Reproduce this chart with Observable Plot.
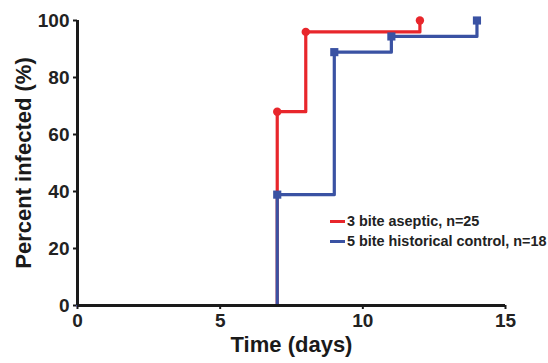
<!DOCTYPE html>
<html>
<head>
<meta charset="utf-8">
<script src="https://cdn.jsdelivr.net/npm/d3@7"></script>
<script src="https://cdn.jsdelivr.net/npm/@observablehq/plot@0.6"></script>
<style>
  html, body { margin: 0; padding: 0; background: #fff; }
  #wrap { position: relative; width: 548px; height: 363px; font-family: "Liberation Sans", Arial, sans-serif; }
  .leg { position: absolute; left: 330px; font-weight: bold; font-size: 14.4px; color: #222; white-space: nowrap; display: flex; align-items: center; }
  .leg span.sw { display: inline-block; width: 15px; height: 3px; margin-right: 2px; }
</style>
</head>
<body>
<div id="wrap"></div>
<script>
// Series (time in days, percent infected)
const asepticDays = [0, 7, 8, 12];
const asepticPct = [0, 68, 96, 100];
const controlDays = [0, 7, 9, 11, 14];
const controlPct = [0, 38.9, 88.9, 94.4, 100];
const seriesNames = ["3 bite aseptic, n=25", "5 bite historical control, n=18"];
const seriesColors = ["#e8262b", "#3a52a3"];
const xTicks = [0, 5, 10, 15];
const yTicks = [0, 20, 40, 60, 80, 100];

const aseptic = asepticDays.map((d, i) => ({day: d, pct: asepticPct[i]}));
const control = controlDays.map((d, i) => ({day: d, pct: controlPct[i]}));

const axisColor = "#1a1a1a";
const chart = Plot.plot({
  width: 548,
  height: 363,
  marginLeft: 77,
  marginRight: 43,
  marginTop: 20,
  marginBottom: 58,
  style: {fontFamily: "'Liberation Sans', Arial, sans-serif", background: "white"},
  x: {domain: [0, 15]},
  y: {domain: [0, 100]},
  marks: [
    Plot.axisX(xTicks, {tickSize: 4, strokeWidth: 2, stroke: axisColor, tickFormat: () => "", label: null}),
    Plot.axisY(yTicks, {tickSize: 4, strokeWidth: 2, stroke: axisColor, tickFormat: () => "", label: null}),
    Plot.text(xTicks, {x: d => d, frameAnchor: "bottom", dy: 15, lineAnchor: "middle", text: d => String(d), fontSize: 19, fontWeight: "bold", fill: "#222"}),
    Plot.text(yTicks, {y: d => d, frameAnchor: "left", dx: -8, textAnchor: "end", lineAnchor: "middle", text: d => String(d), fontSize: 19, fontWeight: "bold", fill: "#222"}),
    Plot.line(aseptic, {x: "day", y: "pct", curve: "step-after", stroke: seriesColors[0], strokeWidth: 3.2}),
    Plot.dot(aseptic.filter(d => d.pct > 0), {x: "day", y: "pct", r: 4.2, fill: seriesColors[0], stroke: "none"}),
    Plot.line(control, {x: "day", y: "pct", curve: "step-after", stroke: seriesColors[1], strokeWidth: 3.2}),
    Plot.dot(control.filter(d => d.pct > 0), {x: "day", y: "pct", r: 4.6, symbol: "square", fill: seriesColors[1], stroke: "none"}),
    Plot.ruleY([0], {x1: 0, x2: 15, stroke: axisColor, strokeWidth: 3}),
    Plot.ruleX([0], {y1: 0, y2: 100, stroke: axisColor, strokeWidth: 3}),
    Plot.text(["Time (days)"], {frameAnchor: "bottom", textAnchor: "middle", dy: 46, fontSize: 22, fontWeight: "bold", fill: "#1a1a1a"}),
    Plot.text(["Percent infected (%)"], {frameAnchor: "left", textAnchor: "middle", dx: -54, rotate: -90, fontSize: 22, fontWeight: "bold", fill: "#1a1a1a"})
  ]
});
const wrap = document.getElementById("wrap");
wrap.appendChild(chart);
const legTops = [213, 233];
seriesNames.forEach((name, i) => {
  const row = document.createElement("div");
  row.className = "leg";
  row.style.top = legTops[i] + "px";
  const sw = document.createElement("span");
  sw.className = "sw";
  sw.style.background = seriesColors[i];
  row.appendChild(sw);
  row.appendChild(document.createTextNode(name));
  wrap.appendChild(row);
});
</script>
</body>
</html>
